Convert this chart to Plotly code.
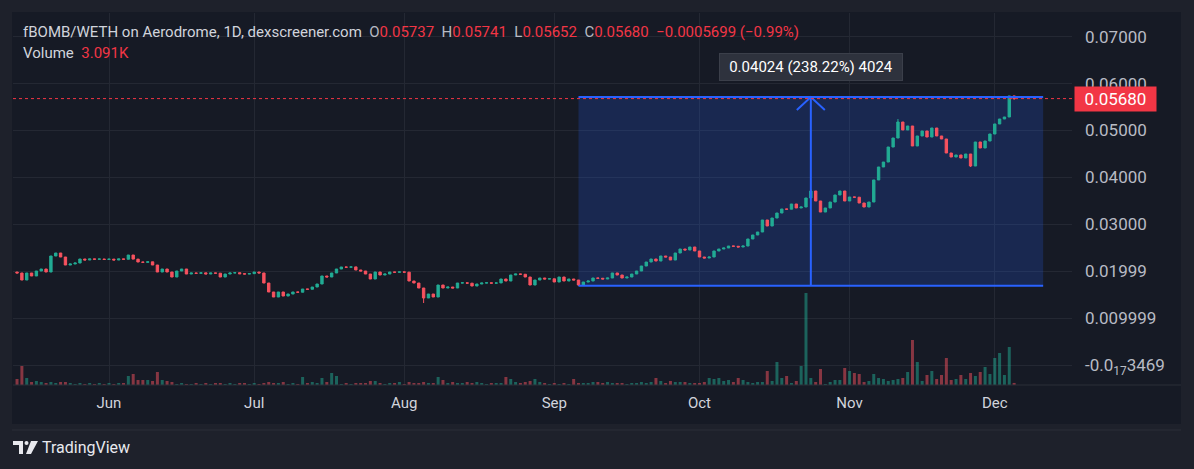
import pandas as pd
import plotly.graph_objects as go

# ---------------- data ----------------
first_day = "2024-05-13"
first_open = 0.01983

close_may = [0.01962, 0.01812, 0.01962, 0.01898, 0.02004, 0.02047, 0.01983, 0.02324, 0.02388, 0.02303,
             0.02132, 0.02154, 0.02175, 0.02260, 0.02239, 0.02262, 0.02255, 0.02260, 0.02250]
close_jun = [0.02258, 0.02239, 0.02262, 0.02255, 0.02345, 0.02258, 0.02196, 0.02190, 0.02200, 0.02132,
             0.01983, 0.02047, 0.01983, 0.01876, 0.02004, 0.02047, 0.01940, 0.01962, 0.01955, 0.01965,
             0.01940, 0.01962, 0.01958, 0.01876, 0.01940, 0.01962, 0.01968, 0.01945, 0.01940, 0.01948]
close_jul = [0.01983, 0.01962, 0.01748, 0.01557, 0.01450, 0.01557, 0.01471, 0.01514, 0.01557, 0.01552,
             0.01620, 0.01615, 0.01663, 0.01727, 0.01898, 0.01876, 0.01962, 0.02047, 0.02090, 0.02085,
             0.02092, 0.02026, 0.02004, 0.01940, 0.01834, 0.01983, 0.01919, 0.01940, 0.01983, 0.01978,
             0.01985]
close_aug = [0.01980, 0.01791, 0.01748, 0.01642, 0.01429, 0.01514, 0.01450, 0.01706, 0.01642, 0.01663,
             0.01642, 0.01748, 0.01752, 0.01745, 0.01684, 0.01727, 0.01748, 0.01752, 0.01745, 0.01750,
             0.01834, 0.01791, 0.01919, 0.01940, 0.01935, 0.01876, 0.01706, 0.01812, 0.01855, 0.01834,
             0.01838]
close_sep = [0.01770, 0.01876, 0.01791, 0.01834, 0.01812, 0.01706, 0.01770, 0.01791, 0.01855, 0.01850,
             0.01834, 0.01855, 0.01962, 0.01919, 0.01855, 0.01876, 0.01940, 0.02004, 0.02111, 0.02196,
             0.02260, 0.02217, 0.02324, 0.02303, 0.02239, 0.02388, 0.02473, 0.02452, 0.02516, 0.02431]
close_oct = [0.02303, 0.02281, 0.02303, 0.02431, 0.02473, 0.02495, 0.02537, 0.02532, 0.02516, 0.02537,
             0.02687, 0.02772, 0.02836, 0.03092, 0.02964, 0.03134, 0.03241, 0.03326, 0.03322, 0.03433,
             0.03348, 0.03369, 0.03561, 0.03710, 0.03497, 0.03262, 0.03348, 0.03475, 0.03625, 0.03710,
             0.03497]
close_nov = [0.03582, 0.03578, 0.03454, 0.03369, 0.03475, 0.03945, 0.04222, 0.04328, 0.04648, 0.04840,
             0.05181, 0.05011, 0.05096, 0.04670, 0.04883, 0.04989, 0.04861, 0.05053, 0.04883, 0.04819,
             0.04520, 0.04435, 0.04478, 0.04414, 0.04499, 0.04243, 0.04755, 0.04627, 0.04776, 0.04925]
close_dec = [0.05139, 0.05245, 0.05288, 0.05737, 0.05680]

# volume in thousands
vol_may = [9.0, 28.5, 10.5, 4.5, 6.0, 4.5, 3.0, 4.5, 3.0, 4.5, 4.5, 3.0, 1.5, 3.0, 1.5, 3.0, 1.5, 3.0, 1.5]
vol_jun = [3.0, 1.5, 3.0, 3.0, 13.5, 16.5, 7.5, 7.5, 7.5, 6.0, 19.5, 7.5, 6.0, 4.5, 1.5, 3.0, 1.5, 1.5,
           3.0, 1.5, 3.0, 1.5, 3.0, 3.0, 1.5, 3.0, 1.5, 3.0, 3.0, 1.5]
vol_jul = [3.0, 1.5, 3.0, 4.5, 3.0, 3.0, 4.5, 1.5, 3.0, 1.5, 12.0, 3.0, 4.5, 3.0, 10.5, 4.5, 18.0, 13.5,
           1.5, 3.0, 1.5, 3.0, 3.0, 3.0, 6.0, 6.0, 3.0, 1.5, 3.0, 3.0, 4.5]
vol_aug = [1.5, 4.5, 3.0, 3.0, 4.5, 3.0, 3.0, 12.0, 7.5, 3.0, 4.5, 3.0, 3.0, 4.5, 3.0, 4.5, 3.0, 1.5,
           3.0, 3.0, 3.0, 12.0, 9.0, 4.5, 3.0, 4.5, 6.0, 9.0, 4.5, 3.0, 1.5]
vol_sep = [3.0, 1.5, 3.0, 1.5, 9.0, 3.0, 3.0, 3.0, 4.5, 4.5, 3.0, 4.5, 3.0, 3.0, 3.0, 1.5, 3.0, 3.0,
           4.5, 3.0, 4.5, 10.5, 6.0, 3.0, 6.0, 4.5, 4.5, 4.5, 3.0, 3.0]
vol_oct = [3.0, 4.5, 10.5, 9.0, 10.5, 6.0, 7.5, 4.5, 10.5, 7.5, 4.5, 3.0, 4.5, 4.5, 21.0, 6.0, 34.5,
           10.5, 13.5, 3.0, 6.0, 28.5, 138.0, 10.5, 4.5, 24.0, 1.5, 4.5, 7.5, 7.5, 25.5]
vol_nov = [21.0, 18.0, 16.5, 4.5, 6.0, 16.5, 10.5, 9.0, 6.0, 7.5, 9.0, 10.5, 19.5, 67.5, 34.5, 6.0,
           15.0, 21.0, 9.0, 15.0, 40.5, 7.5, 9.0, 15.0, 9.0, 18.0, 13.5, 19.5, 27.0, 16.5]
vol_dec = [40.5, 48.0, 15.0, 57.0, 3.091]

# visible wicks (index: value)
wick_high = {164: 0.03750, 182: 0.05245, 206: 0.05741}
wick_low = {84: 0.01322, 116: 0.01689, 197: 0.04222, 206: 0.05652}

month_ticks = ["2024-06-01", "2024-07-01", "2024-08-01", "2024-09-01", "2024-10-01", "2024-11-01", "2024-12-01"]
month_labels = ["Jun", "Jul", "Aug", "Sep", "Oct", "Nov", "Dec"]
price_ticks = [0.0, 0.01, 0.02, 0.03, 0.04, 0.05, 0.06, 0.07]
price_labels = ["-0.0<sub>17</sub>3469", "0.009999", "0.01999", "0.03000", "0.04000",
                "0.05000", "0.06000", "0.07000"]

last_price = 0.05680
range_start, range_end = "2024-09-06", "2024-12-11"
range_low, range_high = 0.01689, 0.05713
range_text = "0.04024 (238.22%) 4024"

# ---------------- build series ----------------
close = close_may + close_jun + close_jul + close_aug + close_sep + close_oct + close_nov + close_dec
volume = vol_may + vol_jun + vol_jul + vol_aug + vol_sep + vol_oct + vol_nov + vol_dec
dates = pd.date_range(first_day, periods=len(close), freq="D")
opens = [first_open] + close[:-1]
high = [wick_high.get(i, max(o, c)) for i, (o, c) in enumerate(zip(opens, close))]
low = [wick_low.get(i, min(o, c)) for i, (o, c) in enumerate(zip(opens, close))]

UP, DOWN = "#22ab94", "#f7525f"
vol_colors = ["rgba(34,171,148,0.5)" if c >= o else "rgba(247,82,95,0.5)" for o, c in zip(opens, close)]

OUTER = "#1e212b"
PANE = "#161a25"
GRID = "#242833"
TXT = "#d1d4dc"
AX = "#b8bbc4"
RED = "#f23645"
BLUE = "#2962ff"

W, H = 1194, 469
ML, MR, MT, MB = 13, 122, 13, 84
PW, PH = W - ML - MR, H - MT - MB


def px(x):
    return (x - ML) / PW


def py(y):
    return (H - MB - y) / PH


fig = go.Figure()
fig.add_trace(go.Candlestick(
    x=dates, open=opens, high=high, low=low, close=close,
    increasing=dict(line=dict(color=UP, width=1), fillcolor=UP),
    decreasing=dict(line=dict(color=DOWN, width=1), fillcolor=DOWN),
    whiskerwidth=0, hoverinfo="skip", showlegend=False, yaxis="y"))
fig.add_trace(go.Bar(
    x=dates, y=volume, marker=dict(color=vol_colors, line=dict(width=0)),
    width=0.62 * 86400000, hoverinfo="skip", showlegend=False, yaxis="y2"))

mid_date = pd.Timestamp(range_start) + (pd.Timestamp(range_end) - pd.Timestamp(range_start)) / 2

shapes = [
    # pane background incl. axis areas
    dict(type="rect", xref="paper", yref="paper", x0=px(12), x1=px(1181), y0=py(424), y1=py(12),
         fillcolor=PANE, line=dict(width=0), layer="below"),
    # time axis separator
    dict(type="line", xref="paper", yref="paper", x0=px(13), x1=px(1181), y0=0, y1=0,
         line=dict(color="#2a2e39", width=1)),
    # bottom strip separator
    dict(type="line", xref="paper", yref="paper", x0=px(12), x1=px(1181), y0=py(430), y1=py(430),
         line=dict(color="#2a2e39", width=1)),
    # price-range measurement
    dict(type="rect", x0=range_start, x1=range_end, y0=range_low, y1=range_high,
         fillcolor="rgba(41,98,255,0.2)", line=dict(width=0), layer="between"),
    dict(type="line", x0=range_start, x1=range_end, y0=range_low, y1=range_low,
         line=dict(color=BLUE, width=2)),
    dict(type="line", x0=range_start, x1=range_end, y0=range_high, y1=range_high,
         line=dict(color=BLUE, width=2)),
    dict(type="line", x0=mid_date, x1=mid_date, y0=range_low, y1=range_high,
         line=dict(color=BLUE, width=2)),
    dict(type="path", xsizemode="pixel", ysizemode="pixel", xanchor=mid_date, yanchor=range_high,
         path="M -14,-13 L 0,0 L 14,-13", line=dict(color=BLUE, width=2)),
    # last price dotted line
    dict(type="line", xref="paper", x0=0, x1=1, y0=last_price, y1=last_price,
         line=dict(color=RED, width=1, dash="dot")),
    # TradingView logo glyph
    dict(type="path", xref="paper", yref="paper",
         path=f"M {px(13)},{py(441)} L {px(23)},{py(441)} L {px(23)},{py(454)} L {px(19)},{py(454)} "
              f"L {px(19)},{py(445)} L {px(13)},{py(445)} Z",
         fillcolor="#e8e9ee", line=dict(width=0)),
    dict(type="circle", xref="paper", yref="paper", x0=px(24.5), x1=px(28.5), y0=py(445), y1=py(441),
         fillcolor="#e8e9ee", line=dict(width=0)),
    dict(type="path", xref="paper", yref="paper",
         path=f"M {px(31)},{py(441)} L {px(38)},{py(441)} L {px(31)},{py(454)} L {px(26)},{py(454)} Z",
         fillcolor="#e8e9ee", line=dict(width=0)),
]

head1 = (f"<span style='color:{TXT}'>fBOMB/WETH on Aerodrome, 1D, dexscreener.com</span>"
         f"&nbsp;&nbsp;<span style='color:{AX}'>O</span><span style='color:{RED}'>0.05737</span>"
         f"&nbsp;&nbsp;<span style='color:{AX}'>H</span><span style='color:{RED}'>0.05741</span>"
         f"&nbsp;&nbsp;<span style='color:{AX}'>L</span><span style='color:{RED}'>0.05652</span>"
         f"&nbsp;&nbsp;<span style='color:{AX}'>C</span><span style='color:{RED}'>0.05680</span>"
         f"&nbsp;&nbsp;<span style='color:{RED}'>−0.0005699 (−0.99%)</span>")
head2 = f"<span style='color:{TXT}'>Volume</span>&nbsp;&nbsp;<span style='color:{RED}'>3.091K</span>"

annotations = [
    dict(xref="paper", yref="paper", x=px(21), y=py(32), xanchor="left", yanchor="middle",
         text=head1, showarrow=False, font=dict(size=15)),
    dict(xref="paper", yref="paper", x=px(21), y=py(53), xanchor="left", yanchor="middle",
         text=head2, showarrow=False, font=dict(size=15)),
    dict(x=mid_date, y=range_high, yanchor="bottom", yshift=16, text=range_text, showarrow=False,
         bgcolor="#2e323d", bordercolor="#3b3f4a", borderwidth=1, width=180, height=24,
         font=dict(size=15, color="#ffffff")),
    dict(xref="paper", x=px(1074), y=last_price, xanchor="left", yanchor="middle", text="0.05680",
         showarrow=False, bgcolor=RED, width=81, height=24, borderpad=0,
         font=dict(size=17, color="#ffffff")),
    dict(xref="paper", yref="paper", x=px(40), y=py(447.5), xanchor="left", yanchor="middle",
         text="TradingView", showarrow=False, font=dict(size=16, color="#e8e9ee")),
]

fig.update_layout(
    width=W, height=H, margin=dict(l=ML, r=MR, t=MT, b=MB, autoexpand=False),
    paper_bgcolor=OUTER, plot_bgcolor=PANE,
    font=dict(family="Roboto, Arial, sans-serif", color=AX),
    showlegend=False, hovermode=False, boxgap=0.3,
    xaxis=dict(type="date", range=["2024-05-12 04:00", "2024-12-16 23:00"],
               tickvals=month_ticks, ticktext=month_labels, showgrid=True, gridcolor=GRID,
               gridwidth=1, zeroline=False, showline=False, ticks="", rangeslider=dict(visible=False),
               tickfont=dict(size=15, color=TXT), ticklabelstandoff=7, fixedrange=True),
    yaxis=dict(side="right", range=[-0.00426, 0.07505], tickvals=price_ticks, ticktext=price_labels,
               showgrid=True, gridcolor=GRID, zeroline=False, showline=False, ticks="",
               tickfont=dict(size=17, color=AX), ticklabelstandoff=12, fixedrange=True),
    yaxis2=dict(overlaying="y", range=[0, 558], visible=False, fixedrange=True),
    shapes=shapes, annotations=annotations,
)

fig.write_html("out.html", config={"displayModeBar": False})
